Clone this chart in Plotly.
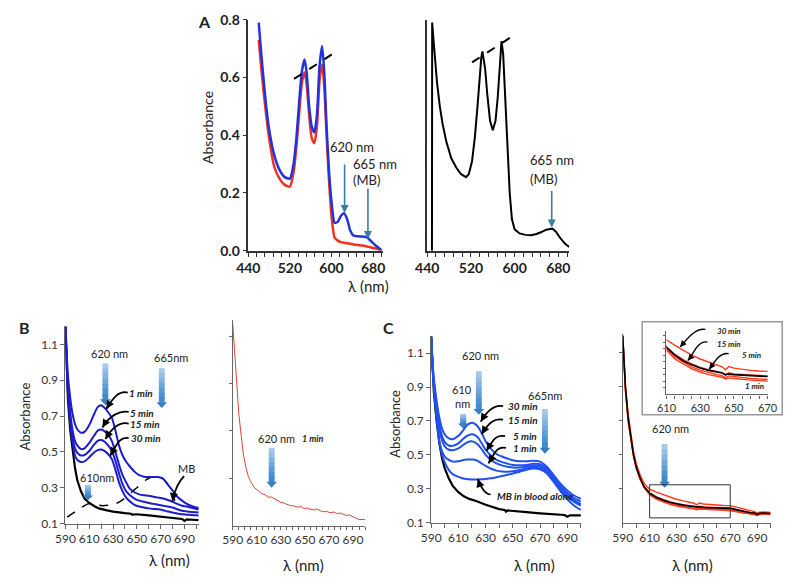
import plotly.graph_objects as go

W, H = 800, 585
FONT = "Lato"

# ---------------- DATA ----------------
a_x = [460, 465, 470, 475, 480, 490, 500, 510, 520, 527, 533, 538, 543, 548, 552, 557, 562, 567, 572, 577,
       582, 586, 590, 595, 600, 606, 612, 618, 624, 630, 636, 642, 650, 660, 668, 675, 685, 696]
a_blue = [0.79, 0.68, 0.58, 0.49, 0.42, 0.33, 0.28, 0.255, 0.25, 0.30, 0.40, 0.52, 0.62, 0.662, 0.62, 0.50, 0.43, 0.41, 0.47, 0.64,
          0.709, 0.62, 0.45, 0.28, 0.17, 0.097, 0.10, 0.12, 0.13, 0.11, 0.07, 0.053, 0.05, 0.049, 0.047, 0.035, 0.018, 0.002]
a_red = [0.73, 0.63, 0.54, 0.46, 0.39, 0.29, 0.25, 0.228, 0.222, 0.27, 0.37, 0.48, 0.58, 0.618, 0.58, 0.47, 0.39, 0.373, 0.43, 0.59,
         0.645, 0.57, 0.42, 0.25, 0.12, 0.045, 0.035, 0.03, 0.028, 0.026, 0.024, 0.022, 0.02, 0.018, 0.015, 0.012, 0.008, 0.002]

ar_x = [448.6, 449, 451, 454, 458, 463, 468, 475, 484, 493, 502, 511, 516, 522, 527, 532, 536, 539, 541, 544,
        546, 550, 555, 560, 565, 569, 573, 576, 579, 583, 587, 591, 595, 600, 609, 620, 630, 640, 648, 658,
        669, 676, 683, 692, 700]
ar_black = [0.0, 0.79, 0.74, 0.67, 0.58, 0.50, 0.44, 0.377, 0.32, 0.288, 0.265, 0.255, 0.265, 0.31, 0.39, 0.50, 0.60, 0.67, 0.69, 0.66,
            0.63, 0.54, 0.45, 0.417, 0.45, 0.53, 0.66, 0.726, 0.68, 0.52, 0.34, 0.20, 0.11, 0.074, 0.06, 0.055, 0.054, 0.058, 0.064, 0.073,
            0.077, 0.065, 0.045, 0.025, 0.013]

b_x = [590, 591, 592, 594, 596, 598, 600, 603, 606, 610, 614, 617, 620, 623, 626, 629, 632, 635, 638, 641,
       644, 648, 652, 656, 660, 664, 668, 672, 676, 680, 684, 688, 692, 696, 700, 702]
b_1min = [1.2, 1.05, 0.93, 0.80, 0.71, 0.655, 0.625, 0.607, 0.612, 0.65, 0.71, 0.75, 0.761, 0.745, 0.72, 0.69, 0.62, 0.535, 0.48, 0.445,
          0.42, 0.39, 0.37, 0.362, 0.36, 0.36, 0.36, 0.35, 0.318, 0.285, 0.25, 0.228, 0.21, 0.198, 0.19, 0.187]
b_5min = [1.2, 1.0, 0.88, 0.72, 0.62, 0.56, 0.535, 0.516, 0.52, 0.55, 0.59, 0.618, 0.625, 0.615, 0.595, 0.56, 0.50, 0.43, 0.37, 0.33,
          0.295, 0.275, 0.263, 0.258, 0.255, 0.25, 0.245, 0.24, 0.232, 0.222, 0.21, 0.20, 0.195, 0.188, 0.182, 0.18]
b_15min = [1.2, 0.98, 0.86, 0.69, 0.58, 0.52, 0.495, 0.48, 0.483, 0.505, 0.54, 0.562, 0.567, 0.557, 0.535, 0.505, 0.45, 0.38, 0.32, 0.28,
           0.26, 0.24, 0.228, 0.222, 0.215, 0.21, 0.205, 0.20, 0.195, 0.19, 0.18, 0.172, 0.168, 0.165, 0.163, 0.162]
b_30min = [1.2, 0.97, 0.84, 0.66, 0.55, 0.48, 0.455, 0.444, 0.447, 0.47, 0.497, 0.51, 0.513, 0.505, 0.487, 0.46, 0.40, 0.33, 0.28, 0.245,
           0.225, 0.205, 0.195, 0.19, 0.185, 0.182, 0.18, 0.175, 0.168, 0.162, 0.156, 0.152, 0.15, 0.148, 0.146, 0.145]
b_blood_x = [590, 591, 592, 594, 596, 598, 600, 603, 606, 610, 614, 618, 624, 630, 640, 645, 646, 650, 660, 670,
             680, 688, 690, 692, 700, 702]
b_blood = [1.2, 0.95, 0.80, 0.62, 0.50, 0.41, 0.34, 0.28, 0.24, 0.215, 0.198, 0.185, 0.175, 0.167, 0.158, 0.155, 0.15, 0.152, 0.146, 0.138,
           0.13, 0.126, 0.115, 0.124, 0.12, 0.119]
b_mb_x = [591.4, 600, 609, 615, 621, 627, 632, 638, 643.5, 648, 653, 658, 662.7, 666, 669.6, 673, 676.4, 679, 682]
b_mb = [0.136, 0.175, 0.21, 0.207, 0.20, 0.203, 0.21, 0.232, 0.263, 0.29, 0.316, 0.345, 0.36, 0.362, 0.36, 0.345, 0.315, 0.27, 0.227]

br_x = [590, 591, 592.4, 594, 595, 597, 599, 601, 603, 605, 608, 611, 614, 617, 620, 622, 625, 628, 630, 633,
        636, 638, 641, 644, 647, 649, 652, 655, 658, 660, 663, 666, 668, 671, 674, 677, 679, 682, 685, 687,
        690, 693, 695, 698, 700]
br_red = [0.852, 0.77, 0.68, 0.57, 0.474, 0.38, 0.296, 0.245, 0.207, 0.185, 0.16, 0.148, 0.135, 0.13, 0.119, 0.121, 0.112, 0.104, 0.098, 0.094,
          0.087, 0.084, 0.083, 0.078, 0.08, 0.072, 0.074, 0.068, 0.066, 0.07, 0.062, 0.058, 0.06, 0.054, 0.057, 0.05, 0.053, 0.046, 0.042, 0.045,
          0.036, 0.03, 0.026, 0.027, 0.025]

c_x = [590, 591, 592, 594, 596, 598, 600, 603, 606, 610, 613, 616, 619, 621, 624, 627, 630, 634, 638, 642,
       646, 650, 655, 660, 665, 670, 675, 680, 685, 690, 695, 700]
c_30min = [1.2, 1.05, 0.95, 0.82, 0.72, 0.655, 0.62, 0.597, 0.592, 0.612, 0.64, 0.672, 0.688, 0.688, 0.67, 0.63, 0.58, 0.535, 0.505, 0.49,
           0.478, 0.468, 0.462, 0.462, 0.465, 0.46, 0.43, 0.38, 0.33, 0.29, 0.26, 0.24]
c_15min = [1.2, 1.04, 0.93, 0.79, 0.68, 0.61, 0.575, 0.555, 0.553, 0.568, 0.59, 0.61, 0.62, 0.62, 0.605, 0.57, 0.53, 0.495, 0.47, 0.457,
           0.448, 0.44, 0.438, 0.44, 0.447, 0.445, 0.42, 0.37, 0.315, 0.275, 0.245, 0.225]
c_5min = [1.2, 1.03, 0.92, 0.77, 0.65, 0.585, 0.55, 0.53, 0.527, 0.538, 0.555, 0.572, 0.58, 0.578, 0.562, 0.535, 0.50, 0.47, 0.45, 0.438,
          0.43, 0.425, 0.425, 0.43, 0.437, 0.435, 0.41, 0.36, 0.305, 0.262, 0.232, 0.21]
c_1min = [1.2, 1.02, 0.90, 0.72, 0.58, 0.52, 0.49, 0.47, 0.46, 0.462, 0.468, 0.472, 0.473, 0.472, 0.465, 0.45, 0.435, 0.418, 0.407, 0.402,
          0.40, 0.403, 0.41, 0.42, 0.428, 0.425, 0.40, 0.35, 0.295, 0.252, 0.222, 0.20]
c_mb = [1.2, 1.02, 0.90, 0.72, 0.58, 0.50, 0.455, 0.41, 0.385, 0.37, 0.362, 0.357, 0.355, 0.355, 0.355, 0.356, 0.358, 0.362, 0.368, 0.375,
        0.382, 0.39, 0.40, 0.412, 0.42, 0.415, 0.39, 0.34, 0.285, 0.237, 0.20, 0.175]
c_blood_x = [590, 591, 592, 594, 596, 598, 600, 603, 606, 610, 614, 618, 623, 630, 640, 644, 645, 646, 650, 660,
             670, 680, 688, 690, 692, 700]
c_blood = [1.2, 1.0, 0.87, 0.70, 0.57, 0.48, 0.42, 0.36, 0.315, 0.28, 0.255, 0.24, 0.228, 0.205, 0.18, 0.175, 0.165, 0.172, 0.17, 0.162,
           0.155, 0.15, 0.145, 0.135, 0.143, 0.143]

cr_x = [590, 591, 592, 594, 596, 598, 600, 603, 606, 610, 615, 620, 625, 630, 635, 640, 643, 645, 647, 650,
        655, 660, 665, 670, 675, 680, 685, 688, 690, 692, 695, 700]
cr_1min = [1.2, 1.0, 0.88, 0.70, 0.58, 0.49, 0.42, 0.355, 0.305, 0.265, 0.238, 0.222, 0.208, 0.198, 0.19, 0.185, 0.182, 0.176, 0.18, 0.178,
           0.175, 0.173, 0.172, 0.17, 0.162, 0.155, 0.15, 0.148, 0.142, 0.148, 0.15, 0.148]
cr_5min = [1.2, 1.0, 0.885, 0.705, 0.585, 0.495, 0.425, 0.36, 0.31, 0.27, 0.244, 0.228, 0.214, 0.204, 0.196, 0.19, 0.187, 0.18, 0.186, 0.184,
           0.18, 0.178, 0.177, 0.175, 0.166, 0.158, 0.153, 0.152, 0.145, 0.151, 0.153, 0.15]
cr_15min = [1.2, 1.01, 0.89, 0.71, 0.59, 0.50, 0.43, 0.362, 0.312, 0.276, 0.252, 0.236, 0.223, 0.212, 0.205, 0.20, 0.196, 0.188, 0.196, 0.192,
            0.19, 0.188, 0.187, 0.186, 0.176, 0.166, 0.16, 0.158, 0.15, 0.157, 0.158, 0.155]
cr_30min = [1.21, 1.03, 0.91, 0.74, 0.62, 0.52, 0.45, 0.38, 0.33, 0.297, 0.28, 0.265, 0.25, 0.238, 0.228, 0.22, 0.214, 0.205, 0.215, 0.21,
            0.206, 0.203, 0.201, 0.20, 0.19, 0.178, 0.168, 0.165, 0.156, 0.162, 0.163, 0.16]
cr_blood = [1.2, 1.02, 0.90, 0.72, 0.60, 0.50, 0.43, 0.36, 0.31, 0.274, 0.25, 0.232, 0.22, 0.21, 0.203, 0.197, 0.195, 0.19, 0.192, 0.19,
            0.188, 0.186, 0.185, 0.184, 0.175, 0.165, 0.158, 0.157, 0.148, 0.155, 0.157, 0.153]

a_ticks = [440, 520, 600, 680]
bc_ticks = [590, 610, 630, 650, 670, 690]
inset_ticks = [610, 630, 650, 670]
absorb_ticks_a = [0.0, 0.2, 0.4, 0.6, 0.8]
absorb_ticks_bc = [0.1, 0.3, 0.5, 0.7, 0.9, 1.1]


# ---------------- helpers ----------------
def xd(p0, p1):
    return [p0 / W, p1 / W]


def yd(top, bot):
    return [1 - bot / H, 1 - top / H]


def P(px, py):
    return px / W, 1 - py / H


fig = go.Figure()

BLUE_A = "#2233dd"
RED_A = "#ee3322"
BLUE_B = "#1c1ccc"
BLUE_C = "#2050ee"
RED_C = "#ff3b20"


def add_line(x, y, axis, color, width, dash="solid", shape="spline"):
    fig.add_trace(go.Scatter(x=x, y=y, mode="lines", xaxis="x" + axis, yaxis="y" + axis,
                             line=dict(color=color, width=width, dash=dash, shape=shape, smoothing=0.6),
                             showlegend=False, hoverinfo="skip"))


add_line(a_x, a_red, "", RED_A, 2.5)
add_line(a_x, a_blue, "", BLUE_A, 2.5)
add_line(ar_x, ar_black, "2", "black", 2, shape="linear")
add_line(b_blood_x, b_blood, "3", "black", 2.2, shape="linear")
add_line(b_mb_x, b_mb, "3", "black", 1.5, dash="dash")
for ys in (b_30min, b_15min, b_5min, b_1min):
    add_line(b_x, ys, "3", BLUE_B, 2)
add_line(br_x, br_red, "4", "#d9443c", 1, shape="linear")
add_line(c_blood_x, c_blood, "5", "black", 2.2, shape="linear")
for ys in (c_mb, c_1min, c_5min, c_15min, c_30min):
    add_line(c_x, ys, "5", BLUE_C, 2)
for ys in (cr_1min, cr_5min, cr_15min, cr_30min):
    add_line(cr_x, ys, "6", RED_C, 1.4, shape="linear")
add_line(cr_x, cr_blood, "6", "black", 1.6, shape="linear")
for ys in (cr_1min, cr_5min, cr_15min, cr_30min):
    add_line(cr_x, ys, "7", RED_C, 1.4, shape="linear")
add_line(cr_x, cr_blood, "7", "black", 1.6, shape="linear")


def axis(dom, rng, anchor, tickvals=None, ticktext=None, tl=4, fsize=12, color="#333", lc="#666",
         showticks=True, bold=False, lw=1.2):
    d = dict(domain=dom, range=rng, anchor=anchor, showgrid=False, zeroline=False, showline=True,
             linecolor=lc, linewidth=lw, ticks="outside" if showticks else "", ticklen=tl, tickcolor=lc,
             tickfont=dict(family=FONT, size=fsize, color=color, weight="bold" if bold else "normal"))
    if tickvals is not None:
        d["tickmode"] = "array"
        d["tickvals"] = tickvals
        d["ticktext"] = ticktext if ticktext is not None else [str(v) for v in tickvals]
    return d


def lab(vals, shown, fmt="{:g}"):
    return [fmt.format(v) if v in shown else "" for v in vals]


a_minor = list(range(440, 701, 16))
bc_minor = list(range(590, 701, 10))
br_minor = list(range(590, 701, 5))
in_minor = list(range(610, 671, 5))

layout = dict(width=W, height=H, margin=dict(l=0, r=0, t=0, b=0), paper_bgcolor="white", plot_bgcolor="rgba(0,0,0,0)",
              showlegend=False)
layout["xaxis"] = axis(xd(243, 382), [440, 700], "y", a_minor, lab(a_minor, a_ticks), fsize=14, color="#222",
                       lc="#333", bold=True, lw=1.5)
layout["yaxis"] = axis(yd(11, 249), [0, 0.8], "x", absorb_ticks_a, ["0.0", "0.2", "0.4", "0.6", "0.8"], fsize=14,
                       color="#222", lc="#333", bold=True, lw=1.5)
layout["xaxis2"] = axis(xd(427, 573), [440, 700], "y2", a_minor, lab(a_minor, a_ticks), fsize=14, color="#222",
                        lc="#333", bold=True, lw=1.5)
layout["yaxis2"] = axis(yd(11, 249), [0, 0.8], "x2", [], [], lc="#333", showticks=False, lw=1.5)
layout["xaxis3"] = axis(xd(55, 192), [590, 702], "y3", bc_minor, lab(bc_minor, bc_ticks))
layout["yaxis3"] = axis(yd(327, 530), [0.1, 1.2], "x3", absorb_ticks_bc, [f"{v:.1f}" for v in absorb_ticks_bc])
layout["xaxis4"] = axis(xd(227, 363), [590, 700], "y4", br_minor, lab(br_minor, bc_ticks), tl=3)
layout["yaxis4"] = axis(yd(320, 532), [0, 0.87], "x4", [0.2, 0.4, 0.6, 0.8], ["", "", "", ""], tl=3)
layout["xaxis5"] = axis(xd(431, 585), [590, 700], "y5", bc_minor, lab(bc_minor, bc_ticks))
layout["yaxis5"] = axis(yd(337, 529), [0.1, 1.2], "x5", absorb_ticks_bc, [f"{v:.1f}" for v in absorb_ticks_bc])
layout["xaxis6"] = axis(xd(628, 780), [590, 700], "y6", bc_minor, lab(bc_minor, bc_ticks))
layout["yaxis6"] = axis(yd(335, 529), [0.1, 1.21], "x6", [0.3, 0.5, 0.7, 0.9, 1.1], [""] * 5, tl=3)
layout["xaxis7"] = axis(xd(673, 777), [610, 670], "y7", in_minor, lab(in_minor, inset_ticks), tl=3, fsize=11)
layout["yaxis7"] = axis(yd(332, 397), [0.129, 0.323], "x7", [0.15, 0.17, 0.19, 0.21, 0.23, 0.25, 0.27, 0.29, 0.31],
                        [""] * 9, tl=2)
fig.update_layout(**layout)

anns = []
shapes = []


def text(px, py, s, size=12, bold=False, italic=False, angle=0, color="#222", anchor="center"):
    if italic:
        s = f"<i>{s}</i>"
    if bold:
        s = f"<b>{s}</b>"
    x, y = P(px, py)
    anns.append(dict(x=x, y=y, xref="paper", yref="paper", text=s, showarrow=False, textangle=angle,
                     xanchor=anchor, yanchor="middle", font=dict(family=FONT, size=size, color=color)))


def arrow(tx, ty, hx, hy, color="black", width=1.5, head=2, size=1.0):
    x, y = P(hx, hy)
    anns.append(dict(x=x, y=y, xref="paper", yref="paper", ax=tx - hx, ay=ty - hy, axref="pixel", ayref="pixel",
                     text="", showarrow=True, arrowcolor=color, arrowwidth=width, arrowhead=head, arrowsize=size,
                     standoff=0))


def pstr(px, py):
    x, y = P(px, py)
    return f"{x:.5f},{y:.5f}"


GRAD = ["#a6c9ea", "#94bee6", "#82b3e1", "#70a8dc", "#5e9cd6", "#4c91d0", "#4288ca"]


def fat_arrow(px, ptop, pbot, half=3.0, head_half=5.5, head_len=6.0):
    # vertical block arrow built from filled shapes: graded shaft + darker triangular head
    shaft_end = pbot - head_len
    n = len(GRAD)
    step = (shaft_end - ptop) / n
    for i, col in enumerate(GRAD):
        y0 = ptop + i * step
        y1 = min(ptop + (i + 1) * step + 1.5, shaft_end + 0.5)
        path = f"M{pstr(px - half, y0)} L{pstr(px + half, y0)} L{pstr(px + half, y1)} L{pstr(px - half, y1)} Z"
        shapes.append(dict(type="path", xref="paper", yref="paper", path=path, fillcolor=col,
                           line=dict(width=0), layer="above"))
    path = f"M{pstr(px - head_half, shaft_end)} L{pstr(px + head_half, shaft_end)} L{pstr(px, pbot)} Z"
    shapes.append(dict(type="path", xref="paper", yref="paper", path=path, fillcolor="#3a7dc0",
                       line=dict(width=0), layer="above"))


def curved(tx, ty, hx, hy, c1=None, c2=None, width=1.8):
    if c1 is None:
        c1 = (tx - 9, ty - 2)
    if c2 is None:
        c2 = (hx + 7, hy - 12)
    path = f"M{pstr(tx, ty)} C{pstr(*c1)} {pstr(*c2)} {pstr(hx, hy)}"
    shapes.append(dict(type="path", xref="paper", yref="paper", path=path,
                       line=dict(color="black", width=width)))
    dx, dy = hx - c2[0], hy - c2[1]
    n = (dx * dx + dy * dy) ** 0.5 or 1
    arrow(hx - dx / n * 5, hy - dy / n * 5, hx, hy, width=width, head=2, size=0.9)


text(198, 13, "A", 16, bold=True)
text(13, 328, "B", 16, bold=True)
text(387, 328, "C", 16, bold=True)
text(201, 122, "Absorbance", 14, angle=-90)
text(13, 420, "Absorbance", 13, angle=-90)
text(393, 427, "Absorbance", 13, angle=-90)
text(367, 285, "λ (nm)", 15)
text(162, 567, "λ (nm)", 15)
text(300, 573, "λ (nm)", 15)
text(537, 573, "λ (nm)", 15)
text(700, 573, "λ (nm)", 15)

# Panel A
text(350, 142, "620 nm", 13)
arrow(342, 160, 342, 210, color="#3d7ca6", width=1.6, head=2, size=1.0)
text(373, 160, "665 nm", 13)
text(365, 176, "(MB)", 13)
arrow(366, 185, 366, 237, color="#3d7ca6", width=1.6, head=2, size=1.0)
text(555, 156, "665 nm", 13)
text(547, 175, "(MB)", 13)
arrow(555, 187, 555, 225, color="#3d7ca6", width=1.6, head=2, size=1.0)

# Panel B
text(100, 355, "620 nm", 11)
fat_arrow(96, 365, 408)
text(164, 359, "665nm", 11)
fat_arrow(154, 370, 411)
text(87, 483, "610nm", 11)
fat_arrow(78, 490, 506, head_len=5)
text(179, 473, "MB", 11)
curved(177, 481, 165, 507, c1=(172, 486), c2=(167, 496))
text(133, 395, "1 min", 10, bold=True, italic=True)
text(134, 416, "5 min", 10, bold=True, italic=True)
text(137, 427, "15 min", 10, bold=True, italic=True)
text(138, 442, "30 min", 10, bold=True, italic=True)
curved(119, 395, 97, 412)
curved(120, 415, 93, 431)
curved(120, 427, 96, 443)
curved(120, 442, 101, 460)
text(272, 442, "620 nm", 11)
text(310, 442, "1 min", 9, bold=True, italic=True)
fat_arrow(267, 452, 493)

# Panel C
text(482, 357, "620 nm", 11)
fat_arrow(480, 373, 418)
text(463, 392, "610", 11)
text(463, 406, "nm", 11)
fat_arrow(464, 417, 432, head_len=5)
text(548, 398, "665nm", 11)
fat_arrow(548, 412, 458)
text(525, 409, "30 min", 10, bold=True, italic=True)
text(525, 423, "15 min", 10, bold=True, italic=True)
text(528, 440, "5 min", 10, bold=True, italic=True)
text(528, 452, "1 min", 10, bold=True, italic=True)
curved(505, 409, 482, 425)
curved(505, 423, 483, 438)
curved(507, 440, 488, 455)
curved(508, 452, 490, 468)
text(538, 502, "MB in blood alone", 10, bold=True, italic=True)
curved(492, 500, 479, 484, c1=(487, 500), c2=(482, 493))
text(677, 432, "620 nm", 11)
fat_arrow(671, 448, 493)
# inset
text(737, 332, "30 min", 8, bold=True, italic=True)
text(737, 345, "15 min", 8, bold=True, italic=True)
text(760, 356, "5 min", 8, bold=True, italic=True)
text(763, 388, "1 min", 8, bold=True, italic=True)
curved(713, 330, 687, 348, c1=(703, 328), c2=(694, 340), width=1.4)
curved(715, 343, 695, 362, c1=(705, 341), c2=(701, 355), width=1.4)
curved(737, 355, 717, 371, c1=(728, 353), c2=(722, 364), width=1.4)

fig.update_layout(annotations=anns)

shapes += [
    dict(type="line", xref="x", yref="y", x0=528, y0=0.595, x1=606, y1=0.686,
         line=dict(color="black", width=2, dash="dash")),
    dict(type="line", xref="x2", yref="y2", x0=522, y0=0.652, x1=593, y1=0.739,
         line=dict(color="black", width=2, dash="dash")),
    dict(type="rect", xref="x6", yref="y6", x0=610, x1=670, y0=0.128, y1=0.323,
         line=dict(color="#333", width=1)),
    dict(type="rect", xref="paper", yref="paper", x0=648 / W, x1=792 / W, y0=1 - 418 / H, y1=1 - 322 / H,
         line=dict(color="#999", width=1.5)),
]
fig.update_layout(shapes=shapes)

fig.write_html("out.html", config={"displayModeBar": False},
               post_script="document.body.style.margin='0';document.body.style.overflow='hidden';")
